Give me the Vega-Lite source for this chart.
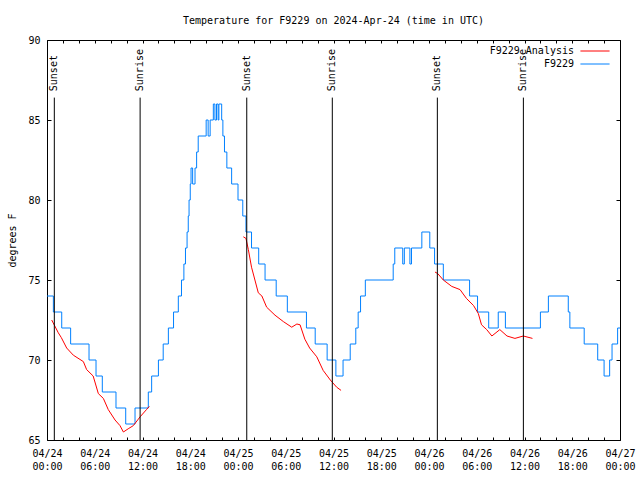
{
  "$schema": "https://vega.github.io/schema/vega-lite/v6.json",
  "width": 573,
  "height": 400,
  "autosize": "none",
  "padding": {"left": 47, "top": 40, "right": 20, "bottom": 40},
  "background": "white",
  "title": {"text": "Temperature for F9229 on 2024-Apr-24 (time in UTC)", "font": "DejaVu Sans Mono", "fontSize": 10, "fontWeight": "normal", "anchor": "middle", "offset": 9, "color": "black"},
  "config": {
    "view": {"stroke": "black", "strokeWidth": 1},
    "axis": {"domain": false, "grid": false, "labelFont": "DejaVu Sans Mono", "labelFontSize": 10, "labelColor": "black", "titleFont": "DejaVu Sans Mono", "titleFontSize": 10, "titleFontWeight": "normal", "titleColor": "black", "tickColor": "black", "tickWidth": 1, "labelOverlap": false, "labelFlush": false, "labelBound": false}
  },
  "datasets": {
    "temp": [
      {"h": 0, "temp": 74}, {"h": 0.8, "temp": 73}, {"h": 1.85, "temp": 72}, {"h": 2.97, "temp": 71},
      {"h": 5.28, "temp": 70}, {"h": 6.16, "temp": 69}, {"h": 6.95, "temp": 68}, {"h": 8.67, "temp": 67},
      {"h": 9.89, "temp": 66}, {"h": 11.06, "temp": 67}, {"h": 12.73, "temp": 68}, {"h": 13.15, "temp": 69},
      {"h": 14.0, "temp": 70}, {"h": 14.6, "temp": 71}, {"h": 15.25, "temp": 72}, {"h": 15.9, "temp": 73},
      {"h": 16.5, "temp": 74}, {"h": 16.9, "temp": 75}, {"h": 17.2, "temp": 76}, {"h": 17.4, "temp": 77},
      {"h": 17.6, "temp": 78}, {"h": 17.75, "temp": 79}, {"h": 17.85, "temp": 80}, {"h": 18.0, "temp": 81},
      {"h": 18.1, "temp": 82}, {"h": 18.3, "temp": 81}, {"h": 18.6, "temp": 82}, {"h": 18.8, "temp": 83},
      {"h": 19.0, "temp": 84}, {"h": 20.0, "temp": 85}, {"h": 20.25, "temp": 84}, {"h": 20.5, "temp": 85},
      {"h": 20.9, "temp": 86}, {"h": 21.1, "temp": 85}, {"h": 21.3, "temp": 86}, {"h": 21.5, "temp": 85},
      {"h": 21.6, "temp": 86}, {"h": 21.95, "temp": 85}, {"h": 22.1, "temp": 84}, {"h": 22.3, "temp": 83},
      {"h": 22.6, "temp": 82}, {"h": 23.2, "temp": 81}, {"h": 24.0, "temp": 80}, {"h": 24.6, "temp": 79},
      {"h": 25.0, "temp": 78}, {"h": 25.7, "temp": 77}, {"h": 26.6, "temp": 76}, {"h": 27.4, "temp": 75},
      {"h": 28.8, "temp": 74}, {"h": 30.2, "temp": 73}, {"h": 32.6, "temp": 72}, {"h": 33.7, "temp": 71},
      {"h": 35.2, "temp": 70}, {"h": 36.3, "temp": 69}, {"h": 37.2, "temp": 70}, {"h": 38.1, "temp": 71},
      {"h": 38.8, "temp": 72}, {"h": 39.1, "temp": 73}, {"h": 39.4, "temp": 74}, {"h": 40.0, "temp": 75},
      {"h": 43.5, "temp": 76}, {"h": 43.7, "temp": 77}, {"h": 44.7, "temp": 76}, {"h": 44.9, "temp": 77},
      {"h": 45.6, "temp": 76}, {"h": 45.8, "temp": 77}, {"h": 47.1, "temp": 78}, {"h": 48.1, "temp": 77},
      {"h": 48.7, "temp": 76}, {"h": 49.8, "temp": 75}, {"h": 53.1, "temp": 74}, {"h": 54.1, "temp": 73},
      {"h": 55.5, "temp": 72}, {"h": 56.7, "temp": 73}, {"h": 57.6, "temp": 72}, {"h": 62.0, "temp": 73},
      {"h": 63.0, "temp": 74}, {"h": 65.5, "temp": 73}, {"h": 65.7, "temp": 72}, {"h": 67.5, "temp": 71},
      {"h": 69.2, "temp": 70}, {"h": 70.0, "temp": 69}, {"h": 70.7, "temp": 70}, {"h": 71.0, "temp": 71},
      {"h": 71.7, "temp": 72}, {"h": 72.0, "temp": 72}
    ],
    "analysis": [
      {"seg": 1, "h": 0.59, "temp": 72.5}, {"seg": 1, "h": 1.42, "temp": 71.7}, {"seg": 1, "h": 1.8, "temp": 71.4},
      {"seg": 1, "h": 2.47, "temp": 70.75}, {"seg": 1, "h": 3.31, "temp": 70.3}, {"seg": 1, "h": 4.57, "temp": 69.9},
      {"seg": 1, "h": 4.98, "temp": 69.4}, {"seg": 1, "h": 5.8, "temp": 69.0}, {"seg": 1, "h": 6.45, "temp": 67.9},
      {"seg": 1, "h": 7.08, "temp": 67.6}, {"seg": 1, "h": 7.7, "temp": 66.9}, {"seg": 1, "h": 8.55, "temp": 66.25},
      {"seg": 1, "h": 9.17, "temp": 65.9}, {"seg": 1, "h": 9.6, "temp": 65.5}, {"seg": 1, "h": 10.2, "temp": 65.7},
      {"seg": 1, "h": 10.85, "temp": 65.9}, {"seg": 1, "h": 11.7, "temp": 66.45}, {"seg": 1, "h": 12.5, "temp": 66.9},
      {"seg": 1, "h": 12.86, "temp": 67.1},
      {"seg": 2, "h": 24.67, "temp": 77.7}, {"seg": 2, "h": 25.0, "temp": 77.6}, {"seg": 2, "h": 25.3, "temp": 76.9},
      {"seg": 2, "h": 25.7, "temp": 75.8}, {"seg": 2, "h": 26.55, "temp": 74.2}, {"seg": 2, "h": 27.0, "temp": 74.0},
      {"seg": 2, "h": 27.6, "temp": 73.3}, {"seg": 2, "h": 28.65, "temp": 72.8}, {"seg": 2, "h": 29.7, "temp": 72.4},
      {"seg": 2, "h": 30.75, "temp": 72.05}, {"seg": 2, "h": 31.4, "temp": 72.25}, {"seg": 2, "h": 31.8, "temp": 72.2},
      {"seg": 2, "h": 32.4, "temp": 71.3}, {"seg": 2, "h": 33.0, "temp": 70.75}, {"seg": 2, "h": 33.9, "temp": 70.2},
      {"seg": 2, "h": 34.7, "temp": 69.35}, {"seg": 2, "h": 35.6, "temp": 68.75}, {"seg": 2, "h": 36.4, "temp": 68.3},
      {"seg": 2, "h": 36.95, "temp": 68.1},
      {"seg": 3, "h": 48.75, "temp": 75.5}, {"seg": 3, "h": 49.1, "temp": 75.4}, {"seg": 3, "h": 49.8, "temp": 75.0},
      {"seg": 3, "h": 50.86, "temp": 74.6}, {"seg": 3, "h": 51.9, "temp": 74.4}, {"seg": 3, "h": 52.7, "temp": 73.85},
      {"seg": 3, "h": 53.6, "temp": 73.4}, {"seg": 3, "h": 54.2, "temp": 72.9}, {"seg": 3, "h": 54.6, "temp": 72.2},
      {"seg": 3, "h": 55.25, "temp": 71.9}, {"seg": 3, "h": 55.9, "temp": 71.5}, {"seg": 3, "h": 56.9, "temp": 71.9},
      {"seg": 3, "h": 57.8, "temp": 71.5}, {"seg": 3, "h": 58.8, "temp": 71.35}, {"seg": 3, "h": 59.85, "temp": 71.5},
      {"seg": 3, "h": 61.0, "temp": 71.35}
    ],
    "sun": [
      {"h": 0.92, "label": "Sunset"},
      {"h": 11.7, "label": "Sunrise"},
      {"h": 25.1, "label": "Sunset"},
      {"h": 35.85, "label": "Sunrise"},
      {"h": 49.05, "label": "Sunset"},
      {"h": 59.86, "label": "Sunrise"}
    ]
  },
  "layer": [
    {
      "data": {"name": "temp"},
      "mark": {"type": "line", "interpolate": "step-after", "strokeWidth": 1},
      "encoding": {
        "x": {"field": "h", "type": "quantitative",
          "scale": {"domain": [0, 72], "nice": false, "zero": false},
          "axis": {"orient": "bottom", "title": null, "ticks": false, "values": [0, 6, 12, 18, 24, 30, 36, 42, 48, 54, 60, 66, 72],
            "labelExpr": "'04/' + (24 + floor(datum.value / 24))", "labelPadding": 8, "labelAlign": "center", "labelBaseline": "top"}},
        "y": {"field": "temp", "type": "quantitative",
          "scale": {"domain": [65, 90], "nice": false, "zero": false},
          "axis": {"orient": "left", "values": [65, 70, 75, 80, 85, 90], "ticks": false, "labelPadding": 7, "title": "degrees F", "titlePadding": 10}},
        "color": {"datum": "F9229", "type": "nominal",
          "scale": {"domain": ["F9229 Analysis", "F9229"], "range": ["#ff0000", "#0080ff"]},
          "legend": {"orient": "none", "legendX": 543, "legendY": 6, "title": null, "symbolType": "M-5.2,0H5.2", "symbolSize": 31.4, "symbolStrokeWidth": 1, "symbolFillColor": "transparent", "labelAlign": "right", "labelOffset": -26, "labelFont": "DejaVu Sans Mono", "labelFontSize": 10, "labelColor": "black", "rowPadding": 3, "padding": 0}}
      }
    },
    {
      "data": {"name": "analysis"},
      "mark": {"type": "line", "strokeWidth": 1},
      "encoding": {
        "x": {"field": "h", "type": "quantitative",
          "scale": {"domain": [0, 72], "nice": false, "zero": false},
          "axis": {"orient": "bottom", "title": null, "ticks": false, "values": [0, 6, 12, 18, 24, 30, 36, 42, 48, 54, 60, 66, 72],
            "labelExpr": "(datum.value % 24 < 10 ? '0' : '') + (datum.value % 24) + ':00'", "labelPadding": 21, "labelAlign": "center", "labelBaseline": "top"}},
        "y": {"field": "temp", "type": "quantitative",
          "scale": {"domain": [65, 90], "nice": false, "zero": false},
          "axis": {"orient": "right", "values": [65, 70, 75, 80, 85, 90], "tickSize": -4, "labels": false, "title": null}},
        "color": {"datum": "F9229 Analysis", "type": "nominal"},
        "detail": {"field": "seg", "type": "nominal"}
      }
    },
    {
      "data": {"name": "sun"},
      "mark": {"type": "rule", "color": "black", "strokeWidth": 1},
      "encoding": {
        "x": {"field": "h", "type": "quantitative",
          "axis": {"orient": "bottom", "title": null, "labels": false, "values": [0, 2, 4, 6, 8, 10, 12, 14, 16, 18, 20, 22, 24, 26, 28, 30, 32, 34, 36, 38, 40, 42, 44, 46, 48, 50, 52, 54, 56, 58, 60, 62, 64, 66, 68, 70, 72], "tickSize": -3}},
        "y": {"datum": 86.4, "type": "quantitative",
          "axis": {"orient": "left", "values": [65, 70, 75, 80, 85, 90], "tickSize": -4, "labels": false, "title": null}},
        "y2": {"datum": 65}
      }
    },
    {
      "data": {"name": "sun"},
      "mark": {"type": "text", "angle": 270, "align": "left", "baseline": "middle", "font": "DejaVu Sans Mono", "fontSize": 10, "color": "black"},
      "encoding": {
        "x": {"field": "h", "type": "quantitative",
          "axis": {"orient": "top", "title": null, "labels": false, "values": [0, 2, 4, 6, 8, 10, 12, 14, 16, 18, 20, 22, 24, 26, 28, 30, 32, 34, 36, 38, 40, 42, 44, 46, 48, 50, 52, 54, 56, 58, 60, 62, 64, 66, 68, 70, 72], "tickSize": -3}},
        "y": {"datum": 86.8, "type": "quantitative", "axis": null},
        "text": {"field": "label"}
      }
    }
  ],
  "resolve": {"axis": {"x": "independent", "y": "independent"}}
}
